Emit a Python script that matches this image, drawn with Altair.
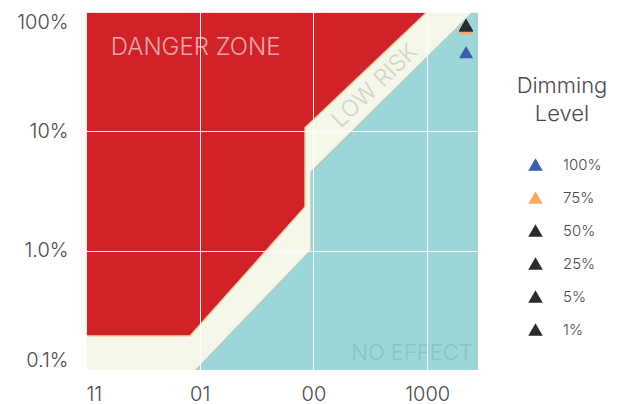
import altair as alt
import pandas as pd

# ---- data -------------------------------------------------------------
# axis ticks and their labels (as shown in the reference)
x_ticks = [1, 10, 100, 1000]
x_tick_labels = ["11", "01", "00", "1000"]
y_ticks = [0.1, 1, 10, 100]
y_tick_labels = ["0.1%", "1.0%", "10%", "100%"]

# danger-zone lower boundary (x, y in %), filled up to 100 %
danger_x = [1, 8.22, 84.4, 84.4, 1000]
danger_y = [0.193, 0.193, 2.32, 10.7, 100]

# no-effect upper boundary (x, y in %), filled down to 0.1 %
noeffect_x = [9.28, 95.3, 95.3, 2535, 2800]
noeffect_y = [0.1, 1.01, 4.56, 100, 100]

# measured points
levels = ["100%", "75%", "50%", "25%", "5%", "1%"]
level_colors = ["#3d5eac", "#f7a85e", "#2a2b2e", "#2a2b2e", "#2a2b2e", "#2a2b2e"]
point_x = [2198, 2198, 2198, 2198, 2198, 2198]
point_y = [46.2, 73.4, 77.8, 77.8, 77.8, 77.8]

# zone annotations
zone_labels = ["DANGER ZONE", "LOW RISK", "NO EFFECT"]
zone_x = [9.2, 348, 736]
zone_y = [50, 24, 0.139]

# ---- styling ----------------------------------------------------------
FONT = "Inter"
RED = "#d12229"
TEAL = "#9dd6d8"
CREAM = "#f4f7ea"
TXT = "#4a4a4a"

danger = pd.DataFrame({"x": danger_x, "y": danger_y, "top": [100] * len(danger_x),
                       "i": range(len(danger_x))})
noeff = pd.DataFrame({"x": noeffect_x, "y": noeffect_y, "bot": [0.1] * len(noeffect_x),
                      "i": range(len(noeffect_x))})
pts = pd.DataFrame({"level": levels, "x": point_x, "y": point_y})

xlabel_expr = " : ".join(
    f"datum.value == {v} ? '{l}'" for v, l in zip(x_ticks, x_tick_labels)
) + " : ''"
ylabel_expr = " : ".join(
    f"abs(datum.value - {v}) < {v}*0.01 ? '{l}'" for v, l in zip(y_ticks, y_tick_labels)
) + " : ''"

xscale = alt.Scale(type="log", domain=[1, 2800], nice=False)
yscale = alt.Scale(type="log", domain=[0.1, 100], nice=False)

xaxis = alt.Axis(values=x_ticks, labelExpr=xlabel_expr, title=None, domain=False,
                 ticks=False, labelPadding=14, labelFont=FONT, labelFontSize=20,
                 labelFontWeight=300, labelColor=TXT, grid=True, gridColor="white",
                 gridOpacity=0.9, gridWidth=1, zindex=1, labelFlush=True)
yaxis = alt.Axis(values=y_ticks, labelExpr=ylabel_expr, title=None, domain=False,
                 ticks=False, labelPadding=18, labelFont=FONT, labelFontSize=20,
                 labelFontWeight=300, labelColor=TXT, grid=True, gridColor="white",
                 gridOpacity=0.9, gridWidth=1, zindex=1, labelFlush=True, minExtent=73)

X = alt.X("x:Q", scale=xscale, axis=xaxis)
Y = alt.Y("y:Q", scale=yscale, axis=yaxis)

red_area = alt.Chart(danger).mark_area(color=RED, opacity=1, clip=True).encode(
    x=X, y=Y, y2="top:Q")
red_edge = alt.Chart(danger).mark_line(color="#e7d5a6", strokeWidth=1.5, clip=True).encode(
    x=X, y=Y, order="i:Q")

teal_area = alt.Chart(noeff).mark_area(color=TEAL, opacity=1, clip=True).encode(
    x=X, y=Y, y2="bot:Q")
teal_edge = alt.Chart(noeff).mark_line(color="#b8c9bd", strokeWidth=1.5, clip=True).encode(
    x=X, y=Y, order="i:Q")


def zone_text(i, color, size, angle=0):
    df = pd.DataFrame({"x": [zone_x[i]], "y": [zone_y[i]], "t": [zone_labels[i]]})
    return alt.Chart(df).mark_text(font=FONT, fontSize=size, fontWeight=300, color=color,
                                   angle=angle, align="center", baseline="middle").encode(
        x=X, y=Y, text="t:N")


t_danger = zone_text(0, "#eaa7ab", 24)
t_low = zone_text(1, "#cfd4c8", 23, angle=316)
t_none = zone_text(2, "#86c3c4", 22)

points = alt.Chart(pts).mark_point(shape="triangle-up", filled=True, size=200,
                                   opacity=1).encode(
    x=X, y=Y,
    color=alt.Color("level:N", sort=levels,
                    scale=alt.Scale(domain=levels, range=level_colors),
                    legend=alt.Legend(
                        title=["Dimming", "Level"], orient="none", legendX=431,
                        legendY=64, padding=0, titleFont=FONT, titleFontSize=22,
                        titleFontWeight=300, titleColor=TXT, titleAlign="center",
                        titleAnchor="middle", titleLineHeight=28, titlePadding=31,
                        labelFont=FONT, labelFontSize=15, labelFontWeight=300,
                        labelColor=TXT, labelOffset=20, symbolSize=210,
                        symbolType="triangle-up", symbolStrokeWidth=0,
                        symbolOpacity=1, rowPadding=17, symbolOffset=5)),
)

chart = alt.layer(red_area, teal_area, red_edge, teal_edge, t_danger, t_low, t_none,
                  points).properties(
    width=392, height=358,
    padding={"left": 5, "top": 4, "right": 5, "bottom": 5},
).configure_view(fill=CREAM, stroke=None)

chart.save("out.html", embed_options={"renderer": "svg", "actions": False})
